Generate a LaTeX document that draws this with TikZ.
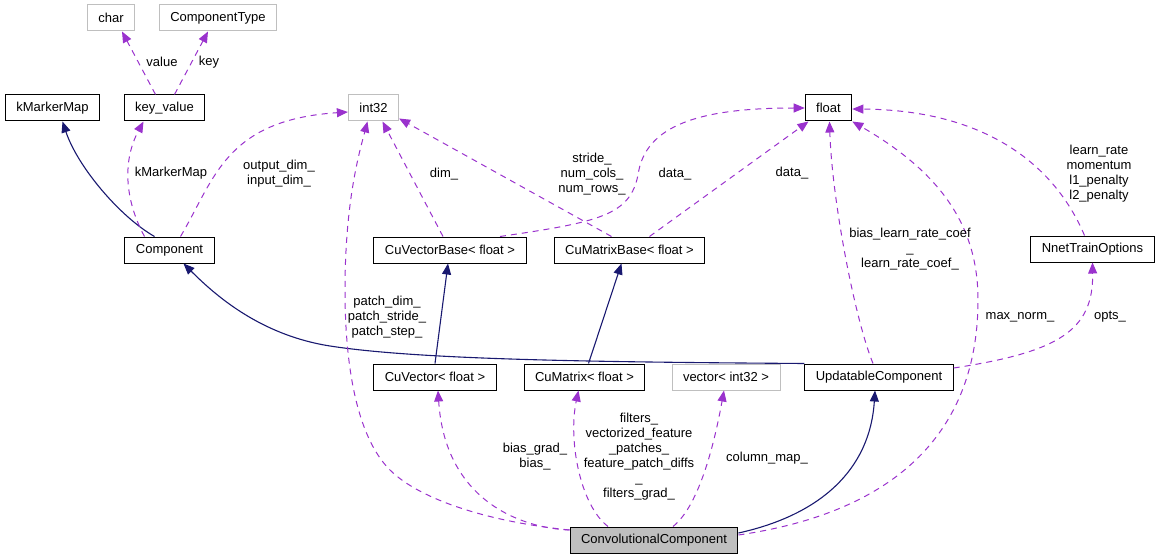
\documentclass[tikz,border=0pt]{standalone}
\usepackage{fontspec}
\setmainfont{Liberation Sans}
\usetikzlibrary{arrows.meta}
\definecolor{usepurple}{HTML}{9A32CD}
\definecolor{inhblue}{HTML}{191970}
\definecolor{boxgray}{HTML}{BFBFBF}
\tikzstyle{cls}=[shape=rectangle,draw=black,line width=1pt,minimum height=26pt,inner xsep=11pt,inner ysep=0pt]
\tikzstyle{extcls}=[cls,draw=boxgray]
\tikzstyle{focus}=[cls,fill=boxgray]
\tikzstyle{member}=[-{Triangle[length=11pt,width=9pt]},draw=usepurple,line width=1pt,dash pattern=on 6pt off 5pt]
\tikzstyle{inherit}=[-{Triangle[length=11pt,width=9pt]},draw=inhblue,line width=1.1pt]
\tikzstyle{lbl}=[align=center,inner sep=0pt]
\begin{document}
\begin{tikzpicture}[x=1pt,y=-1pt,font=\fontsize{13}{15}\selectfont]
\useasboundingbox (0,0) rectangle (1160,559);
% classes
\node[extcls] (char) at (111,18) {char};
\node[extcls] (ctype) at (218,18) {ComponentType};
\node[cls] (kmm) at (52.5,108) {kMarkerMap};
\node[cls] (kv) at (164.5,108) {key\_value};
\node[extcls] (int) at (373.5,108) {int32};
\node[cls] (float) at (828.5,108) {float};
\node[cls] (comp) at (169.5,250) {Component};
\node[cls] (cvb) at (450,250) {CuVectorBase< float >};
\node[cls] (cmb) at (629.5,250) {CuMatrixBase< float >};
\node[cls] (nto) at (1092.5,249) {NnetTrainOptions};
\node[cls] (cv) at (435,377) {CuVector< float >};
\node[cls] (cm) at (584.5,377) {CuMatrix< float >};
\node[extcls] (vec) at (726,377) {vector< int32 >};
\node[cls] (upd) at (879,377) {UpdatableComponent};
\node[focus] (conv) at (654,540) {ConvolutionalComponent};
% inheritance
\draw[inherit] ([xshift=-15pt]comp.north) .. controls +(-35,-20) and +(15,45) .. ([xshift=10pt]kmm.south);
\draw[inherit] (upd.north west) .. controls (600,362) and (420,360) .. (330,346)
    .. controls (260,335) and (215,295) .. ([xshift=14pt]comp.south);
\draw[inherit] (cv.north) -- ([xshift=-2pt]cvb.south);
\draw[inherit] ([xshift=4pt]cm.north) -- ([xshift=-8pt]cmb.south);
\draw[inherit] ([yshift=7pt]conv.east) .. controls (820,515) and (870,470) .. ([xshift=-4pt]upd.south);
% members
\draw[member] ([xshift=-9pt]kv.north) -- ([xshift=11pt]char.south);
\draw[member] ([xshift=10pt]kv.north) -- ([xshift=-10pt]ctype.south);
\draw[member] ([xshift=-25pt]comp.north) .. controls +(-20,-37) and +(-21,39) .. ([xshift=-21pt]kv.south);
\draw[member] ([xshift=11pt]comp.north) .. controls +(34,-57) and +(-123,8) .. ([yshift=-4pt]int.west);
\draw[member] ([xshift=-7pt]cvb.north) -- ([xshift=9pt]int.south);
\draw[member] ([xshift=-18pt]cmb.north) -- ([yshift=3pt]int.south east);
\draw[member] ([xshift=50pt]cvb.north) .. controls (600,222) and (630,215) .. (638,175)
    .. controls (645,125) and (700,108) .. (float.west);
\draw[member] ([xshift=20pt]cmb.north) -- ([xshift=-20pt]float.south);
\draw[member] ([xshift=-6pt]upd.north) .. controls +(-18,-44) and +(2.5,79) .. ([xshift=1pt]float.south);
\draw[member] ([yshift=5pt]conv.east) .. controls (910,510) and (978,420) .. (978,300)
    .. controls (978,230) and (945,175) .. (float.south east);
\draw[member] ([xshift=-8pt]nto.north) .. controls +(-30,-71) and +(133,1) .. ([yshift=-1pt]float.east);
\draw[member] ([yshift=9pt]upd.east) .. controls +(105,-16) and +(1,68) .. (nto.south);
\draw[member] ([yshift=10pt]conv.west) .. controls (490,522) and (420,500) .. (390,470)
    .. controls (355,435) and (345,360) .. (345,290)
    .. controls (345,200) and (360,150) .. ([xshift=-6pt]int.south);
\draw[member] ([yshift=10pt]conv.west) .. controls (520,528) and (445,500) .. ([xshift=3pt]cv.south);
\draw[member] ([xshift=-46pt]conv.north) .. controls (580,505) and (568,440) .. ([xshift=-6pt]cm.south);
\draw[member] ([xshift=19pt]conv.north) .. controls (700,505) and (715,440) .. ([xshift=-2pt]vec.south);
% labels
\node[lbl] (lvalue) at (162,62) {value};
\node[lbl] (lkey) at (209,62) {key};
\node[lbl] (lkmm) at (171,173) {kMarkerMap};
\node[lbl] (ldims) at (279,174) {output\_dim\_\\input\_dim\_};
\node[lbl] (ldim) at (444,174) {dim\_};
\node[lbl] (lstride) at (592,174) {stride\_\\num\_cols\_\\num\_rows\_};
\node[lbl] (ldatav) at (675,174) {data\_};
\node[lbl] (ldatam) at (792,173) {data\_};
\node[lbl] (lcoef) at (910,249) {bias\_learn\_rate\_coef\\\_\\learn\_rate\_coef\_};
\node[lbl] (ltrain) at (1099,174) {learn\_rate\\momentum\\l1\_penalty\\l2\_penalty};
\node[lbl] (lnorm) at (1020,317) {max\_norm\_};
\node[lbl] (lopts) at (1110,317) {opts\_};
\node[lbl] (lpatch) at (387,317) {patch\_dim\_\\patch\_stride\_\\patch\_step\_};
\node[lbl] (lbias) at (535,457) {bias\_grad\_\\bias\_};
\node[lbl] (lfilt) at (639,457) {filters\_\\vectorized\_feature\\\_patches\_\\feature\_patch\_diffs\\\_\\filters\_grad\_};
\node[lbl] (lcol) at (767,458) {column\_map\_};
\end{tikzpicture}
\end{document}
